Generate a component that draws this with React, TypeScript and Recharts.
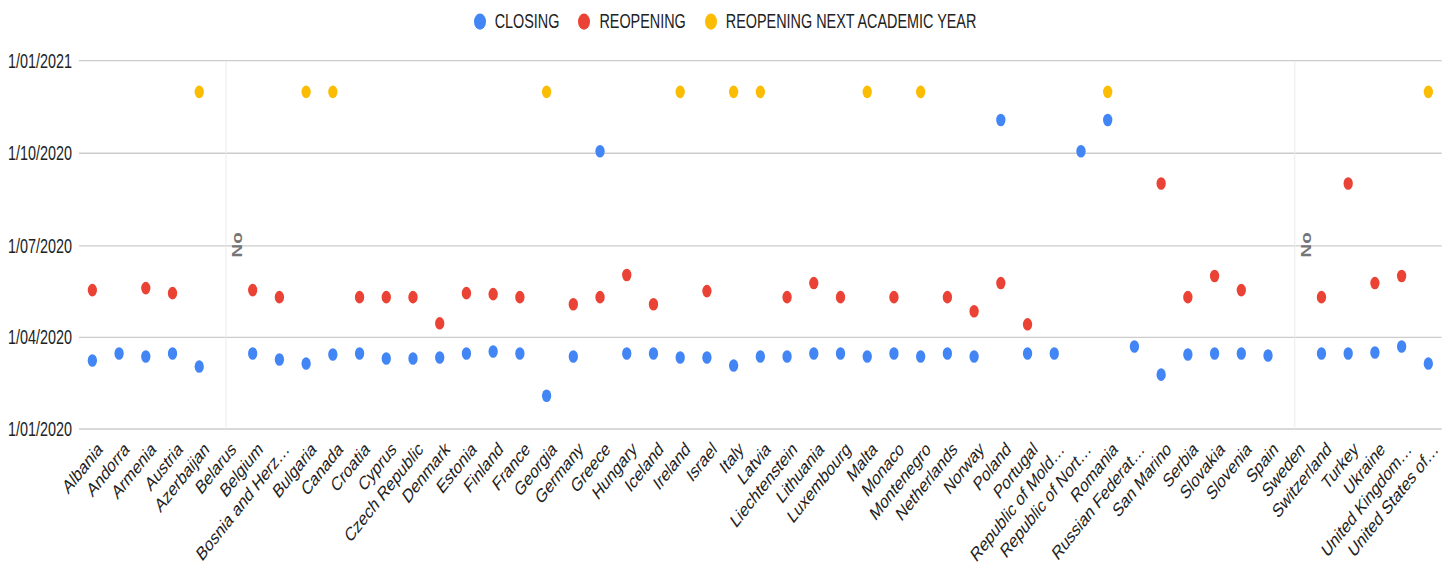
import { CartesianGrid, Legend, ReferenceLine, Scatter, ScatterChart, XAxis, YAxis } from "recharts";

const countries = [
  "Albania", "Andorra", "Armenia", "Austria", "Azerbaijan", "Belarus", "Belgium",
  "Bosnia and Herz…", "Bulgaria", "Canada", "Croatia", "Cyprus", "Czech Republic",
  "Denmark", "Estonia", "Finland", "France", "Georgia", "Germany", "Greece", "Hungary",
  "Iceland", "Ireland", "Israel", "Italy", "Latvia", "Liechtenstein", "Lithuania",
  "Luxembourg", "Malta", "Monaco", "Montenegro", "Netherlands", "Norway", "Poland",
  "Portugal", "Republic of Mold…", "Republic of Nort…", "Romania", "Russian Federat…",
  "San Marino", "Serbia", "Slovakia", "Slovenia", "Spain", "Sweden", "Switzerland",
  "Turkey", "Ukraine", "United Kingdom…", "United States of…",
];

const closing = [
  "2020-03-09", "2020-03-16", "2020-03-13", "2020-03-16", "2020-03-03", null, "2020-03-16",
  "2020-03-10", "2020-03-06", "2020-03-15", "2020-03-16", "2020-03-11", "2020-03-11",
  "2020-03-12", "2020-03-16", "2020-03-18", "2020-03-16", "2020-02-03", "2020-03-13", "2020-10-03", "2020-03-16",
  "2020-03-16", "2020-03-12", "2020-03-12", "2020-03-04", "2020-03-13", "2020-03-13", "2020-03-16",
  "2020-03-16", "2020-03-13", "2020-03-16", "2020-03-13", "2020-03-16", "2020-03-13", "2020-11-03",
  "2020-03-16", "2020-03-16", "2020-10-03", "2020-11-03", "2020-03-23",
  "2020-02-24", "2020-03-15", "2020-03-16", "2020-03-16", "2020-03-14", null, "2020-03-16",
  "2020-03-16", "2020-03-17", "2020-03-23", "2020-03-06",
];

const reopening = [
  "2020-05-18", null, "2020-05-20", "2020-05-15", null, null, "2020-05-18",
  "2020-05-11", null, null, "2020-05-11", "2020-05-11", "2020-05-11",
  "2020-04-15", "2020-05-15", "2020-05-14", "2020-05-11", null, "2020-05-04", "2020-05-11", "2020-06-02",
  "2020-05-04", null, "2020-05-17", null, null, "2020-05-11", "2020-05-25",
  "2020-05-11", null, "2020-05-11", null, "2020-05-11", "2020-04-27", "2020-05-25",
  "2020-04-14", null, null, null, null,
  "2020-09-01", "2020-05-11", "2020-06-01", "2020-05-18", null, null, "2020-05-11",
  "2020-09-01", "2020-05-25", "2020-06-01", null,
];

const reopeningNextYear = [
  null, null, null, null, "2020-12-01", null, null,
  null, "2020-12-01", "2020-12-01", null, null, null,
  null, null, null, null, "2020-12-01", null, null, null,
  null, "2020-12-01", null, "2020-12-01", "2020-12-01", null, null,
  null, "2020-12-01", null, "2020-12-01", null, null, null,
  null, null, null, "2020-12-01", null,
  null, null, null, null, null, null, null,
  null, null, null, "2020-12-01",
];

const yTickDates = ["2020-01-01", "2020-04-01", "2020-07-01", "2020-10-01", "2021-01-01"];
const noDataLabel = "No";

const FONT = "Arial, 'Liberation Sans', sans-serif";
const W = 1450;
const H = 422;
// the source picture is stretched vertically, so the chart is too
const STRETCH = 570 / H;
const DAY = 86400000;
const ORIGIN = Date.UTC(2020, 0, 1);

const dayOf = (iso: string) => {
  const [y, m, d] = iso.split("-").map(Number);
  return (Date.UTC(y, m - 1, d) - ORIGIN) / DAY;
};

const formatDay = (v: number) => {
  const d = new Date(ORIGIN + v * DAY);
  return `${d.getUTCDate()}/${String(d.getUTCMonth() + 1).padStart(2, "0")}/${d.getUTCFullYear()}`;
};

const toPoints = (dates: (string | null)[]) =>
  dates.flatMap((d, i) => (d ? [{ x: i, y: dayOf(d) }] : []));

const series = [
  { name: "CLOSING", dates: closing, color: "#4285F4" },
  { name: "REOPENING", dates: reopening, color: "#EA4335" },
  { name: "REOPENING NEXT ACADEMIC YEAR", dates: reopeningNextYear, color: "#FBBC04" },
];

const yTicks = yTickDates.map(dayOf);
const noData = countries
  .map((_, i) => i)
  .filter((i) => series.every((s) => !s.dates[i]));

const CountryTick = ({ x, y, payload }: any) => {
  const ax = x + 11;
  const ay = y + 16;
  return (
    <text
      x={ax}
      y={ay}
      transform={`rotate(-43 ${ax} ${ay})`}
      textAnchor="end"
      fontSize={14.4}
      fontFamily={FONT}
      fill="#222"
    >
      {countries[payload.value]}
    </text>
  );
};

const NoLabel = ({ viewBox }: any) => {
  const tx = viewBox.x + 16;
  const ty = viewBox.y + viewBox.height / 2;
  return (
    <text
      x={tx}
      y={ty}
      transform={`rotate(-90 ${tx} ${ty})`}
      textAnchor="middle"
      fontSize={14}
      fontWeight="bold"
      fontFamily={FONT}
      fill="#757575"
    >
      {noDataLabel}
    </text>
  );
};

const renderLegend = ({ payload }: any) => (
  <div
    style={{
      display: "flex",
      justifyContent: "center",
      alignItems: "center",
      gap: 19,
      height: 20,
      fontFamily: FONT,
      fontSize: 14.4,
      color: "#222",
    }}
  >
    {(payload || []).map((e: any) => (
      <span key={e.value} style={{ display: "flex", alignItems: "center" }}>
        <span style={{ width: 12, height: 12, borderRadius: 6, background: e.color, marginRight: 9 }} />
        {e.value}
      </span>
    ))}
  </div>
);

export default function App() {
  return (
    <div style={{ position: "absolute", left: 0, top: 0, width: W, height: 570, overflow: "hidden", background: "#fff" }}>
      <div style={{ transform: `scaleY(${STRETCH})`, transformOrigin: "0 0" }}>
        <ScatterChart width={W} height={H} margin={{ top: 17.9, right: 8.3, bottom: 0, left: 0 }}>
          <CartesianGrid vertical={false} stroke="#cccccc" />
          <XAxis
            type="number"
            dataKey="x"
            domain={[-0.5, countries.length - 0.5]}
            ticks={countries.map((_, i) => i)}
            interval={0}
            height={104.4}
            axisLine={false}
            tickLine={false}
            tickSize={0}
            tickMargin={0}
            tick={<CountryTick />}
          />
          <YAxis
            type="number"
            dataKey="y"
            domain={[yTicks[0], yTicks[yTicks.length - 1]]}
            ticks={yTicks}
            tickFormatter={formatDay}
            width={79}
            axisLine={false}
            tickLine={false}
            tickSize={0}
            tickMargin={7}
            tick={{ fill: "#222", fontSize: 14.4, fontFamily: FONT }}
          />
          <Legend verticalAlign="top" wrapperStyle={{ top: 6, left: 0, width: W }} content={renderLegend} />
          {noData.map((i) => (
            <ReferenceLine key={i} x={i} stroke="#ebebeb" label={<NoLabel />} />
          ))}
          {series.map((s) => (
            <Scatter
              key={s.name}
              name={s.name}
              data={toPoints(s.dates)}
              fill={s.color}
              isAnimationActive={false}
              shape={(p: any) => <circle cx={p.cx} cy={p.cy} r={4.65} fill={s.color} />}
            />
          ))}
        </ScatterChart>
      </div>
    </div>
  );
}
